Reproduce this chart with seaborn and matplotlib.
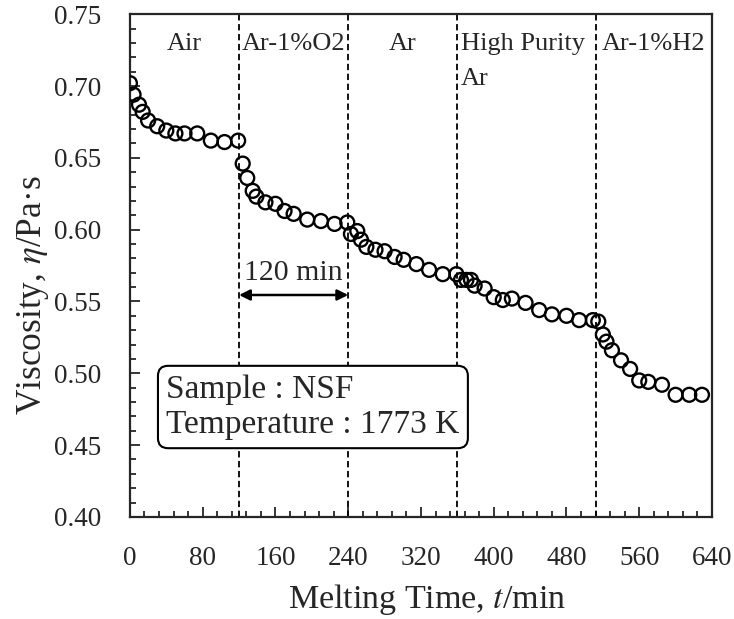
import pandas as pd
import matplotlib
matplotlib.use("Agg")
import matplotlib.pyplot as plt
from matplotlib.ticker import MultipleLocator, FormatStrFormatter
import seaborn as sns

# melting time (min) and viscosity (Pa s)
time_min = [0, 4, 10, 14, 20, 30, 40, 50, 60, 74, 89, 104, 119,
            124, 129, 135, 139, 149, 160, 170, 180, 195, 210, 225, 239,
            243, 250, 254, 260, 270, 280, 291, 301, 315, 329, 344, 359,
            364, 370, 375, 379, 390, 400, 410, 420, 435, 450, 464, 480, 494, 509,
            515, 520, 524, 530, 540, 550, 560, 570, 585, 600, 615, 629]
viscosity = [0.702, 0.694, 0.687, 0.682, 0.676, 0.672, 0.669, 0.667, 0.667, 0.667, 0.662, 0.661, 0.662,
             0.646, 0.636, 0.627, 0.623, 0.619, 0.618, 0.613, 0.611, 0.607, 0.606, 0.604, 0.605,
             0.597, 0.599, 0.593, 0.588, 0.586, 0.585, 0.581, 0.579, 0.576, 0.572, 0.569, 0.569,
             0.565, 0.565, 0.565, 0.561, 0.559, 0.553, 0.551, 0.552, 0.549, 0.544, 0.541, 0.540, 0.537, 0.537,
             0.536, 0.527, 0.522, 0.516, 0.509, 0.503, 0.495, 0.494, 0.492, 0.485, 0.485, 0.485]

# atmosphere changes
switch_times = [120, 240, 360, 512]
atm_labels = ["Air", "Ar-1%O2", "Ar", "High Purity\nAr", "Ar-1%H2"]
atm_x = [60, 180, 300, 364, 576]

df = pd.DataFrame({"t": time_min, "eta": viscosity})

sns.set_style("ticks")
plt.rcParams["font.family"] = "serif"
plt.rcParams["font.serif"] = ["Liberation Serif", "DejaVu Serif"]
plt.rcParams["mathtext.fontset"] = "stix"

fig, ax = plt.subplots(figsize=(7.34, 6.19), dpi=100)
fig.subplots_adjust(left=0.177, right=0.970, top=0.977, bottom=0.165)

sns.scatterplot(data=df, x="t", y="eta", ax=ax, marker="o", s=100,
                facecolor="none", edgecolor="black", linewidth=1.7, zorder=3)

for xs in switch_times:
    ax.axvline(xs, color="black", linestyle=(0, (3.5, 2)), linewidth=1.3, zorder=2)

for lab, xl in zip(atm_labels, atm_x):
    ha = "left" if "\n" in lab else "center"
    ax.text(xl, 0.737, lab, ha=ha, va="top", fontsize=19, linespacing=1.75)

ax.annotate("", xy=(120, 0.5545), xytext=(240, 0.5545),
            arrowprops=dict(arrowstyle="<|-|>", color="black", lw=1.8,
                            shrinkA=0, shrinkB=0, mutation_scale=16))
ax.text(180, 0.5605, "120 min", ha="center", va="bottom", fontsize=21.5)

ax.text(40, 0.4765, "Sample : NSF\nTemperature : 1773 K", ha="left", va="center",
        fontsize=24, linespacing=1.2,
        bbox=dict(boxstyle="round,pad=0.25,rounding_size=0.3", facecolor="white",
                  edgecolor="black", linewidth=1.5), zorder=4)

ax.set_xlim(0, 640)
ax.set_ylim(0.40, 0.75)
ax.xaxis.set_major_locator(MultipleLocator(80))
ax.xaxis.set_minor_locator(MultipleLocator(16))
ax.yaxis.set_major_locator(MultipleLocator(0.05))
ax.yaxis.set_minor_locator(MultipleLocator(0.01))
ax.yaxis.set_major_formatter(FormatStrFormatter("%.2f"))
ax.tick_params(which="both", direction="in", top=False, right=False,
               labelsize=19.5, width=1.3, pad=21)
ax.tick_params(which="major", length=7)
ax.tick_params(which="minor", length=4)
for sp in ax.spines.values():
    sp.set_linewidth(1.6)
    sp.set_visible(True)

ax.set_xlabel("Melting Time, $t$/min", fontsize=24.5)
ax.set_ylabel("Viscosity, $\\eta$/Pa·s", fontsize=25.5)
ax.xaxis.set_label_coords(0.51, -0.13)
ax.yaxis.set_label_coords(-0.135, 0.44)

fig.savefig("out.png", dpi=100)
